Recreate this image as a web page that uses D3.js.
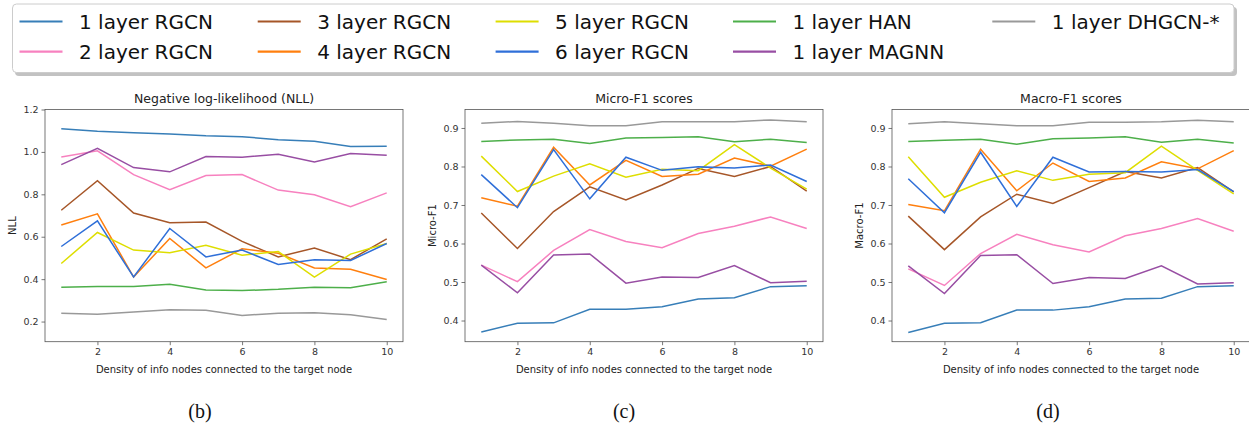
<!DOCTYPE html>
<html><head><meta charset="utf-8">
<script src="https://cdn.jsdelivr.net/npm/d3@7"></script>
<style>
body{margin:0;background:#fff;}
svg{display:block;font-family:"DejaVu Sans",sans-serif;}
</style></head>
<body><svg id="c" width="1249" height="431"></svg>
<script>
const xs = [1,2,3,4,5,6,7,8,9,10];
const seriesNames = ["1 layer RGCN","2 layer RGCN","3 layer RGCN","4 layer RGCN","5 layer RGCN","6 layer RGCN","1 layer HAN","1 layer MAGNN","1 layer DHGCN-*"];
const seriesColors = ["#377eb8","#f781bf","#a65628","#ff7f0e","#dede00","#2f6fd8","#4daf4a","#984ea3","#999999"];

// Panel (b): NLL
const nll_1RGCN = [1.109,1.097,1.090,1.085,1.076,1.072,1.057,1.050,1.025,1.027];
const nll_2RGCN = [0.976,1.005,0.893,0.822,0.889,0.893,0.820,0.798,0.742,0.807];
const nll_3RGCN = [0.725,0.864,0.712,0.666,0.669,0.578,0.505,0.547,0.492,0.590];
const nll_4RGCN = [0.655,0.708,0.410,0.592,0.453,0.543,0.522,0.453,0.447,0.398];
const nll_5RGCN = [0.474,0.620,0.537,0.524,0.560,0.513,0.530,0.410,0.518,0.568];
const nll_6RGCN = [0.554,0.675,0.410,0.639,0.505,0.537,0.469,0.491,0.488,0.568];
const nll_HAN   = [0.362,0.365,0.365,0.376,0.349,0.346,0.352,0.362,0.360,0.388];
const nll_MAGNN = [0.940,1.017,0.926,0.906,0.978,0.975,0.989,0.953,0.992,0.984];
const nll_DHGCN = [0.239,0.234,0.245,0.256,0.253,0.229,0.239,0.242,0.232,0.210];

// Panel (c): Micro-F1
const mic_1RGCN = [0.370,0.393,0.394,0.429,0.429,0.436,0.456,0.459,0.488,0.490];
const mic_2RGCN = [0.544,0.501,0.582,0.636,0.605,0.589,0.626,0.645,0.669,0.639];
const mic_3RGCN = [0.679,0.587,0.683,0.747,0.713,0.752,0.795,0.774,0.800,0.736];
const mic_4RGCN = [0.719,0.697,0.850,0.752,0.816,0.774,0.780,0.822,0.801,0.845];
const mic_5RGCN = [0.827,0.735,0.775,0.807,0.772,0.793,0.789,0.857,0.796,0.741];
const mic_6RGCN = [0.779,0.693,0.844,0.716,0.824,0.790,0.799,0.796,0.804,0.761];
const mic_HAN   = [0.865,0.869,0.871,0.860,0.874,0.875,0.877,0.864,0.871,0.862];
const mic_MAGNN = [0.544,0.472,0.570,0.573,0.497,0.513,0.512,0.543,0.498,0.502];
const mic_DHGCN = [0.912,0.917,0.912,0.906,0.906,0.916,0.916,0.916,0.921,0.916];

// Panel (d): Macro-F1
const mac_1RGCN = [0.369,0.393,0.394,0.427,0.427,0.436,0.456,0.458,0.488,0.490];
const mac_2RGCN = [0.534,0.491,0.574,0.624,0.597,0.578,0.620,0.639,0.665,0.632];
const mac_3RGCN = [0.671,0.584,0.669,0.728,0.704,0.745,0.787,0.770,0.797,0.734];
const mac_4RGCN = [0.701,0.685,0.845,0.737,0.809,0.761,0.770,0.812,0.794,0.841];
const mac_5RGCN = [0.825,0.720,0.759,0.789,0.764,0.780,0.784,0.853,0.790,0.729];
const mac_6RGCN = [0.768,0.680,0.837,0.696,0.824,0.786,0.787,0.786,0.792,0.735];
const mac_HAN   = [0.865,0.868,0.871,0.858,0.872,0.874,0.877,0.863,0.871,0.861];
const mac_MAGNN = [0.542,0.470,0.569,0.571,0.496,0.512,0.509,0.542,0.495,0.498];
const mac_DHGCN = [0.911,0.916,0.911,0.906,0.906,0.915,0.915,0.916,0.920,0.916];

const xTicks = [2,4,6,8,10];
const nllTicks = [0.2,0.4,0.6,0.8,1.0,1.2];
const f1Ticks = [0.4,0.5,0.6,0.7,0.8,0.9];
const panelTitles = ["Negative log-likelihood (NLL)","Micro-F1 scores","Macro-F1 scores"];
const yLabels = ["NLL","Micro-F1","Macro-F1"];
const subLabels = ["(b)","(c)","(d)"];
const xLabel = "Density of info nodes connected to the target node";

const panels = [
  {series:[nll_1RGCN,nll_2RGCN,nll_3RGCN,nll_4RGCN,nll_5RGCN,nll_6RGCN,nll_HAN,nll_MAGNN,nll_DHGCN], ydom:[0.105,1.2], ticks:nllTicks, left:45, right:403, ylabX:12, sub:200},
  {series:[mic_1RGCN,mic_2RGCN,mic_3RGCN,mic_4RGCN,mic_5RGCN,mic_6RGCN,mic_HAN,mic_MAGNN,mic_DHGCN], ydom:[0.345,0.948], ticks:f1Ticks, left:465, right:823, ylabX:432, sub:624},
  {series:[mac_1RGCN,mac_2RGCN,mac_3RGCN,mac_4RGCN,mac_5RGCN,mac_6RGCN,mac_HAN,mac_MAGNN,mac_DHGCN], ydom:[0.345,0.948], ticks:f1Ticks, left:892, right:1250, ylabX:859, sub:1048}
];
const yTop = 109.5, yBottom = 341.7;
const svg = d3.select("#c");
svg.append("rect").attr("width",1249).attr("height",431).attr("fill","#fff");

panels.forEach((p,i)=>{
  const x = d3.scaleLinear().domain([0.55,10.45]).range([p.left,p.right]);
  const y = d3.scaleLinear().domain(p.ydom).range([yBottom,yTop]);
  const g = svg.append("g");
  const line = d3.line().x((d,k)=>x(xs[k])).y(d=>y(d));
  p.series.forEach((s,k)=>{
    g.append("path").attr("d",line(s)).attr("fill","none")
     .attr("stroke",seriesColors[k]).attr("stroke-width",1.5);
  });
  g.append("rect").attr("x",p.left).attr("y",yTop).attr("width",p.right-p.left).attr("height",yBottom-yTop)
   .attr("fill","none").attr("stroke","#555").attr("stroke-width",0.8);
  const xa = g.append("g").attr("transform",`translate(0,${yBottom})`)
    .call(d3.axisBottom(x).tickValues(xTicks).tickSize(3.5).tickPadding(3).tickFormat(d3.format("d")));
  const ya = g.append("g").attr("transform",`translate(${p.left},0)`)
    .call(d3.axisLeft(y).tickValues(p.ticks).tickSize(3.5).tickPadding(3).tickFormat(d3.format(".1f")));
  [xa,ya].forEach(a=>{
    a.select(".domain").remove();
    a.selectAll("line").attr("stroke","#555").attr("stroke-width",0.8);
    a.selectAll("text").attr("fill","#333").style("font-size","9.5px").style("font-family","DejaVu Sans");
  });
  const cx = (p.left+p.right)/2;
  g.append("text").attr("x",cx).attr("y",103)
   .attr("text-anchor","middle").style("font-size","12.5px").attr("fill","#222").text(panelTitles[i]);
  g.append("text").attr("x",cx).attr("y",373)
   .attr("text-anchor","middle").style("font-size","10px").attr("fill","#222").text(xLabel);
  g.append("text").attr("transform",`translate(${p.ylabX+3.5},${(yTop+yBottom)/2}) rotate(-90)`)
   .attr("text-anchor","middle").style("font-size","10px").attr("fill","#222").text(yLabels[i]);
  svg.append("text").attr("x",p.sub).attr("y",418).attr("text-anchor","middle")
   .style("font-family","'Liberation Serif',serif").style("font-size","20px").attr("fill","#111").text(subLabels[i]);
});

// legend
const lg = svg.append("g");
lg.append("rect").attr("x",15).attr("y",7).attr("width",1222).attr("height",69).attr("rx",4)
  .attr("fill","#999").attr("opacity",0.6);
lg.append("rect").attr("x",12.5).attr("y",4).attr("width",1221.5).attr("height",68.5).attr("rx",4)
  .attr("fill","#fff").attr("stroke","#cccccc").attr("stroke-width",1);
const colX = [19.5,257.7,495.6,733,992.3];
const rowY = [21.5,51.7];
seriesNames.forEach((n,k)=>{
  const c = Math.floor(k/2), r = k%2;
  const hx = colX[c], hy = rowY[r];
  lg.append("line").attr("x1",hx).attr("x2",hx+43).attr("y1",hy).attr("y2",hy)
    .attr("stroke",seriesColors[k]).attr("stroke-width",2.2);
  lg.append("text").attr("x",hx+59.5).attr("y",hy+7).style("font-size","20px").attr("fill","#111").text(n);
});
</script></body></html>
